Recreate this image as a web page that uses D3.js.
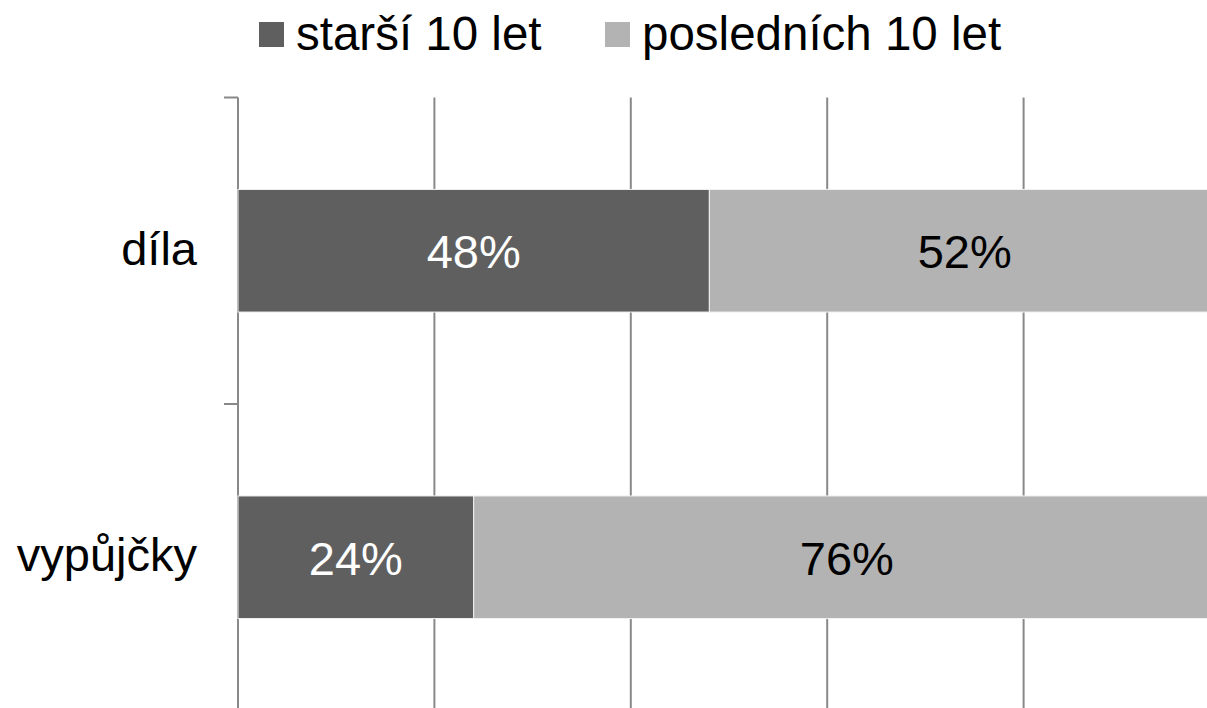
<!DOCTYPE html>
<html><head><meta charset="utf-8">
<script src="https://cdn.jsdelivr.net/npm/d3@7"></script>
<style>html,body{margin:0;padding:0;background:#fff;overflow:hidden}svg{display:block;font-family:"Liberation Sans",Arial,sans-serif}</style>
</head><body><svg id="c" width="1207" height="708"></svg>
<script>
const categories = ["díla", "vypůjčky"];
const seriesNames = ["starší 10 let", "posledních 10 let"];
const older = [0.48, 0.24];
const recent = [0.52, 0.76];
const labelsOlder = ["48%", "24%"];
const labelsRecent = ["52%", "76%"];
const gridTicks = [0, 0.2, 0.4, 0.6, 0.8, 1.0];
const colors = ["#5f5f5f", "#b3b3b3"];
const textColors = ["#ffffff", "#000000"];

const svg = d3.select("#c");
const FS = 47;
const LFS = 47.5;
const x = d3.scaleLinear().domain([0, 1]).range([238, 1220]);
const y = d3.scaleBand().domain(categories).range([97.5, 710.5]).paddingInner(0).paddingOuter(0);
const barH = y.bandwidth() * 0.4;

// gridlines
svg.append("g").selectAll("line").data(gridTicks).join("line")
  .attr("x1", d => x(d)).attr("x2", d => x(d))
  .attr("y1", y.range()[0]).attr("y2", y.range()[1])
  .attr("stroke", "#898989").attr("stroke-width", 2);

// y ticks at band boundaries
const bounds = categories.map(c => y(c)).concat([y.range()[1]]);
svg.append("g").selectAll("line").data(bounds).join("line")
  .attr("x1", x(0) - 14).attr("x2", x(0))
  .attr("y1", d => d).attr("y2", d => d)
  .attr("stroke", "#898989").attr("stroke-width", 2);

// stacked data
const rows = categories.map((c, i) => ({cat: c, segs: [
  {x0: 0, x1: older[i], s: 0, label: labelsOlder[i]},
  {x0: older[i], x1: older[i] + recent[i], s: 1, label: labelsRecent[i]}
]}));

const g = svg.append("g");
rows.forEach(r => {
  const yc = y(r.cat) + y.bandwidth() / 2;
  r.segs.forEach(s => {
    g.append("rect")
      .attr("x", x(s.x0)).attr("width", x(s.x1) - x(s.x0))
      .attr("y", yc - barH / 2).attr("height", barH)
      .attr("fill", colors[s.s]).attr("stroke", "#f2f2f2").attr("stroke-width", 1);
    g.append("text")
      .attr("x", (x(s.x0) + x(s.x1)) / 2).attr("y", yc + FS * 0.37)
      .attr("text-anchor", "middle").attr("font-size", FS)
      .attr("fill", textColors[s.s]).text(s.label);
  });
  svg.append("text").attr("x", 197).attr("y", yc + FS * 0.3)
    .attr("text-anchor", "end").attr("font-size", FS).attr("fill", "#000").text(r.cat);
});

// legend
const legX = [259, 605];
seriesNames.forEach((n, i) => {
  svg.append("rect").attr("x", legX[i]).attr("y", 22).attr("width", 25).attr("height", 25).attr("fill", colors[i]);
  svg.append("text").attr("x", legX[i] + 37).attr("y", 50).attr("font-size", LFS).attr("fill", "#000").text(n);
});
</script></body></html>
